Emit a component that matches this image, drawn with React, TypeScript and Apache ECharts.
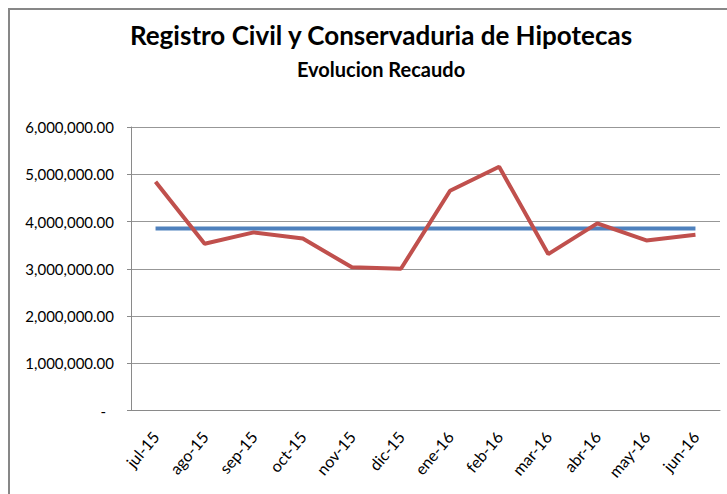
import React, { useEffect, useRef } from "react";
import * as echarts from "echarts";

const months = ["jul-15", "ago-15", "sep-15", "oct-15", "nov-15", "dic-15", "ene-16", "feb-16", "mar-16", "abr-16", "may-16", "jun-16"];
const recaudo = [4840000, 3530000, 3770000, 3640000, 3030000, 3000000, 4650000, 5160000, 3310000, 3960000, 3600000, 3720000];
const promedio = [3850000, 3850000, 3850000, 3850000, 3850000, 3850000, 3850000, 3850000, 3850000, 3850000, 3850000, 3850000];
const yTicks = [0, 1000000, 2000000, 3000000, 4000000, 5000000, 6000000];
const titleText = "Registro Civil y Conservaduria de Hipotecas";
const subtitleText = "Evolucion Recaudo";

function fmt(v: number): string {
  if (v === 0) return "{z|-}";
  const s = Math.round(v).toString().replace(/\B(?=(\d{3})+(?!\d))/g, ",");
  return s + ".00";
}

export default function App() {
  const ref = useRef<HTMLDivElement>(null);
  useEffect(() => {
    if (!ref.current) return;
    const chart = echarts.init(ref.current, undefined, { renderer: "svg" });
    const font = "Lato, 'Open Sans', sans-serif";
    chart.setOption({
      animation: false,
      backgroundColor: "#ffffff",
      graphic: [
        {
          type: "rect",
          shape: { x: 9, y: 9, width: 760, height: 520 },
          style: { fill: "none", stroke: "#878787", lineWidth: 2 },
          silent: true,
        },
        {
          type: "text",
          x: 381,
          y: 35,
          style: {
            text: titleText,
            font: `bold 26px ${font}`,
            fill: "#000000",
            align: "center",
            verticalAlign: "middle",
          },
        },
        {
          type: "text",
          x: 381,
          y: 69,
          style: {
            text: subtitleText,
            font: `bold 20px ${font}`,
            fill: "#000000",
            align: "center",
            verticalAlign: "middle",
          },
        },
      ],
      grid: { left: 131, right: 7, top: 127, bottom: 83.5, containLabel: false },
      xAxis: {
        type: "category",
        data: months,
        boundaryGap: true,
        axisLine: { show: true, lineStyle: { color: "#8a8a8a", width: 1 } },
        axisTick: { show: false },
        axisLabel: {
          rotate: 50,
          interval: 0,
          margin: 23,
          fontFamily: font,
          fontSize: 16,
          color: "#000000",
        },
      },
      yAxis: {
        type: "value",
        min: 0,
        max: 6000000,
        interval: 1000000,
        axisLine: { show: true, lineStyle: { color: "#8a8a8a", width: 1 } },
        axisTick: { show: true, length: 4, lineStyle: { color: "#8a8a8a" } },
        splitLine: { show: true, lineStyle: { color: "#979797", width: 1 } },
        axisLabel: {
          margin: 17,
          fontFamily: font,
          fontSize: 15,
          color: "#000000",
          customValues: yTicks,
          formatter: (v: number) => fmt(v),
          rich: { z: { padding: [0, 8, 0, 0], fontFamily: font, fontSize: 15, color: "#000000" } },
        },
      },
      series: [
        {
          name: "Promedio",
          type: "line",
          data: promedio,
          showSymbol: false,
          symbol: "none",
          lineStyle: { color: "#4F81BD", width: 4 },
          z: 2,
        },
        {
          name: "Recaudo",
          type: "line",
          data: recaudo,
          showSymbol: false,
          symbol: "none",
          lineStyle: { color: "#C0504D", width: 4 },
          z: 3,
        },
      ],
    });
    return () => chart.dispose();
  }, []);
  return <div ref={ref} style={{ position: "fixed", left: 0, top: 0, width: 727, height: 494 }} />;
}
